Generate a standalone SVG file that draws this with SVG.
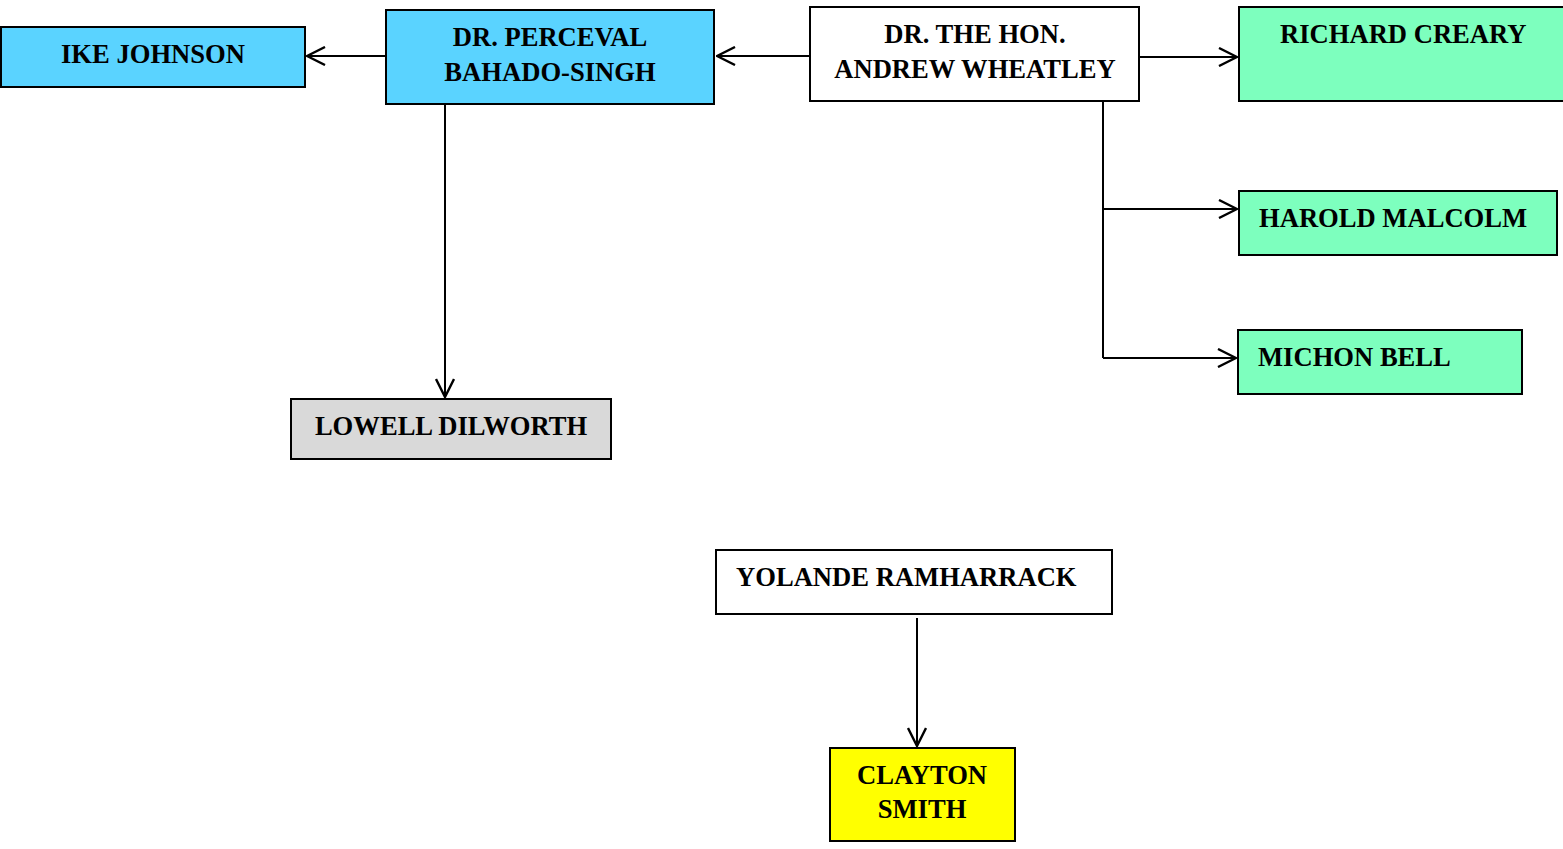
<svg xmlns="http://www.w3.org/2000/svg" width="1563" height="849" viewBox="0 0 1563 849">
<style>
  .box { stroke: #000; stroke-width: 2; }
  .blue { fill: #5ad3ff; }
  .green { fill: #7dffbe; }
  .white { fill: #ffffff; }
  .gray { fill: #d9d9d9; }
  .yellow { fill: #ffff00; }
  text { font-family: "Liberation Serif", "Times New Roman", serif; font-weight: bold; font-size: 26.6px; fill: #000; }
  .c { text-anchor: middle; }
  .conn { stroke: #000; stroke-width: 2; fill: none; }
</style>
<defs>
  <marker id="arr" viewBox="0 0 20 20" refX="19" refY="10" markerWidth="20" markerHeight="20" markerUnits="userSpaceOnUse" orient="auto">
    <path d="M1,1 L19,10 L1,19" fill="none" stroke="#000" stroke-width="2.4"/>
  </marker>
</defs>
<rect width="1563" height="849" fill="#fff"/>
<g id="connectors">
  <line class="conn" x1="809" y1="56" x2="717" y2="56" marker-end="url(#arr)"/>
  <line class="conn" x1="386" y1="56" x2="307" y2="56" marker-end="url(#arr)"/>
  <line class="conn" x1="1139" y1="57" x2="1237" y2="57" marker-end="url(#arr)"/>
  <line class="conn" x1="1103" y1="101" x2="1103" y2="358"/>
  <line class="conn" x1="1103" y1="209" x2="1237" y2="209" marker-end="url(#arr)"/>
  <line class="conn" x1="1103" y1="358" x2="1236" y2="358" marker-end="url(#arr)"/>
  <line class="conn" x1="445" y1="104" x2="445" y2="397" marker-end="url(#arr)"/>
  <line class="conn" x1="917" y1="618" x2="917" y2="746" marker-end="url(#arr)"/>
</g>
<g id="ike-johnson">
  <rect class="box blue" x="1" y="27" width="304" height="60"/>
  <text class="c" x="153" y="63">IKE JOHNSON</text>
</g>
<g id="perceval">
  <rect class="box blue" x="386" y="10" width="328" height="94"/>
  <text class="c" x="550" y="46">DR. PERCEVAL</text>
  <text class="c" x="550" y="81">BAHADO-SINGH</text>
</g>
<g id="wheatley">
  <rect class="box white" x="810" y="7" width="329" height="94"/>
  <text class="c" x="975" y="43">DR. THE HON.</text>
  <text class="c" x="975" y="78">ANDREW WHEATLEY</text>
</g>
<g id="richard-creary">
  <rect class="box green" x="1239" y="7" width="326" height="94"/>
  <text x="1280" y="43">RICHARD CREARY</text>
</g>
<g id="harold-malcolm">
  <rect class="box green" x="1239" y="191" width="318" height="64"/>
  <text x="1259" y="227">HAROLD MALCOLM</text>
</g>
<g id="michon-bell">
  <rect class="box green" x="1238" y="330" width="284" height="64"/>
  <text x="1258" y="366">MICHON BELL</text>
</g>
<g id="lowell-dilworth">
  <rect class="box gray" x="291" y="399" width="320" height="60"/>
  <text class="c" x="451" y="435">LOWELL DILWORTH</text>
</g>
<g id="yolande">
  <rect class="box white" x="716" y="550" width="396" height="64"/>
  <text x="736" y="586">YOLANDE RAMHARRACK</text>
</g>
<g id="clayton-smith">
  <rect class="box yellow" x="830" y="748" width="185" height="93"/>
  <text class="c" x="922" y="784">CLAYTON</text>
  <text class="c" x="922" y="818">SMITH</text>
</g>
</svg>
